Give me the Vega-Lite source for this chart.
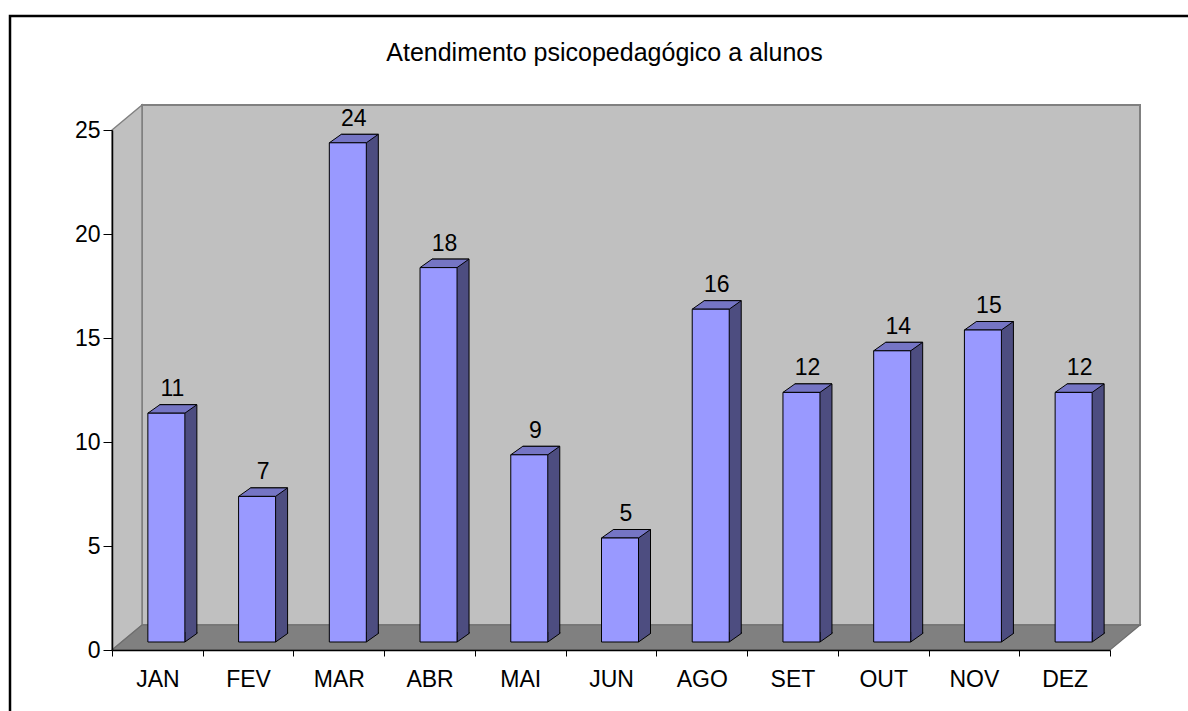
{
  "$schema": "https://vega.github.io/schema/vega-lite/v6.json",
  "autosize": {"type": "none"},
  "padding": {"left": 112, "top": 130, "right": 78, "bottom": 61},
  "width": 998,
  "height": 520,
  "background": "white",
  "config": {
    "font": "Liberation Sans",
    "view": {"stroke": null}
  },
  "title": {
    "text": "Atendimento psicopedagógico a alunos",
    "fontSize": 25,
    "fontWeight": "normal",
    "font": "Liberation Sans",
    "color": "black",
    "anchor": "middle",
    "frame": "group",
    "baseline": "alphabetic",
    "dx": -6.5,
    "offset": -71
  },
  "data": {
    "values": [
      {"mes": "JAN", "valor": 11},
      {"mes": "FEV", "valor": 7},
      {"mes": "MAR", "valor": 24},
      {"mes": "ABR", "valor": 18},
      {"mes": "MAI", "valor": 9},
      {"mes": "JUN", "valor": 5},
      {"mes": "AGO", "valor": 16},
      {"mes": "SET", "valor": 12},
      {"mes": "OUT", "valor": 14},
      {"mes": "NOV", "valor": 15},
      {"mes": "DEZ", "valor": 12}
    ]
  },
  "encoding": {
    "x": {
      "field": "mes",
      "type": "nominal",
      "sort": null,
      "scale": {"domain": ["JAN", "FEV", "MAR", "ABR", "MAI", "JUN", "AGO", "SET", "OUT", "NOV", "DEZ"], "paddingInner": 0, "paddingOuter": 0},
      "axis": {
        "title": null,
        "labelAngle": 0,
        "labelFontSize": 23,
        "labelColor": "black",
        "labelBaseline": "alphabetic",
        "labelPadding": 30,
        "tickSize": 6,
        "tickBand": "extent",
        "tickColor": "black",
        "domainColor": "black",
        "domainWidth": 1.5,
        "zindex": 1
      }
    }
  },
  "layer": [
    {
      "data": {"values": [{}]},
      "mark": {"type": "rect", "fill": "transparent", "stroke": "black", "strokeWidth": 2.5, "xOffset": -102, "x2Offset": 200, "yOffset": -114, "y2Offset": 100},
      "encoding": {
        "x": {"datum": "JAN", "bandPosition": 0},
        "x2": {"datum": "DEZ", "bandPosition": 1},
        "y": {"datum": 25, "type": "quantitative"},
        "y2": {"datum": 0}
      }
    },
    {
      "data": {"values": [{}]},
      "mark": {"type": "rect", "fill": "#C0C0C0", "stroke": "#808080", "strokeWidth": 2, "xOffset": 30, "x2Offset": 30, "yOffset": -25, "y2Offset": -25},
      "encoding": {
        "x": {"datum": "JAN", "bandPosition": 0},
        "x2": {"datum": "DEZ", "bandPosition": 1},
        "y": {"datum": 0, "type": "quantitative"},
        "y2": {"datum": 25}
      }
    },
    {
      "data": {"values": [{}]},
      "mark": {"type": "point", "filled": true, "opacity": 1, "size": 4, "fill": "#C0C0C0", "stroke": "#808080", "strokeWidth": 1.5, "shape": "M0,0 L0,-520 L30,-545 L30,-25 Z"},
      "encoding": {"x": {"datum": "JAN", "bandPosition": 0}, "y": {"datum": 0, "type": "quantitative"}}
    },
    {
      "data": {"values": [{}]},
      "mark": {"type": "point", "filled": true, "opacity": 1, "size": 4, "fill": "#808080", "stroke": "#6E6E6E", "strokeWidth": 1.2, "shape": "M0,0 L998,0 L1028,-25 L30,-25 Z"},
      "encoding": {"x": {"datum": "JAN", "bandPosition": 0}, "y": {"datum": 0, "type": "quantitative"}}
    },
    {
      "mark": {"type": "bar", "width": 37, "fill": "#4D4D80", "stroke": "black", "strokeWidth": 1, "xOffset": 21, "x2Offset": 21, "yOffset": -16.5, "y2Offset": -16.5},
      "encoding": {"y": {"field": "valor", "type": "quantitative"}}
    },
    {
      "mark": {"type": "point", "filled": true, "opacity": 1, "size": 4, "fill": "#4D4D80", "stroke": "black", "strokeWidth": 1, "shape": "M27.5,-18 L27.5,-8 L39.5,-16.5 L39.5,-18"},
      "encoding": {"y": {"datum": 0, "type": "quantitative"}}
    },
    {
      "mark": {"type": "point", "filled": true, "opacity": 1, "size": 4, "fill": "#7575C4", "stroke": "black", "strokeWidth": 1, "shape": "M-9.5,-8 L27.5,-8 L39.5,-16.5 L2.5,-16.5 Z"},
      "encoding": {"y": {"field": "valor", "type": "quantitative"}}
    },
    {
      "mark": {"type": "bar", "width": 37, "fill": "#9999FF", "stroke": "black", "strokeWidth": 1, "xOffset": 9, "x2Offset": 9, "yOffset": -8, "y2Offset": -8},
      "encoding": {
        "y": {
          "field": "valor",
          "type": "quantitative",
          "scale": {"domain": [0, 25], "nice": false},
          "axis": {
            "title": null,
            "values": [0, 5, 10, 15, 20, 25],
            "grid": false,
            "labelFontSize": 23,
            "labelColor": "black",
            "labelPadding": 3,
            "tickSize": 9,
            "tickColor": "black",
            "domainColor": "black",
            "domainWidth": 1.5,
            "zindex": 1
          }
        }
      }
    },
    {
      "mark": {"type": "text", "fontSize": 23, "color": "black", "align": "center", "baseline": "alphabetic", "dx": 15, "dy": -25},
      "encoding": {
        "y": {"field": "valor", "type": "quantitative"},
        "text": {"field": "valor", "type": "quantitative"}
      }
    }
  ]
}
